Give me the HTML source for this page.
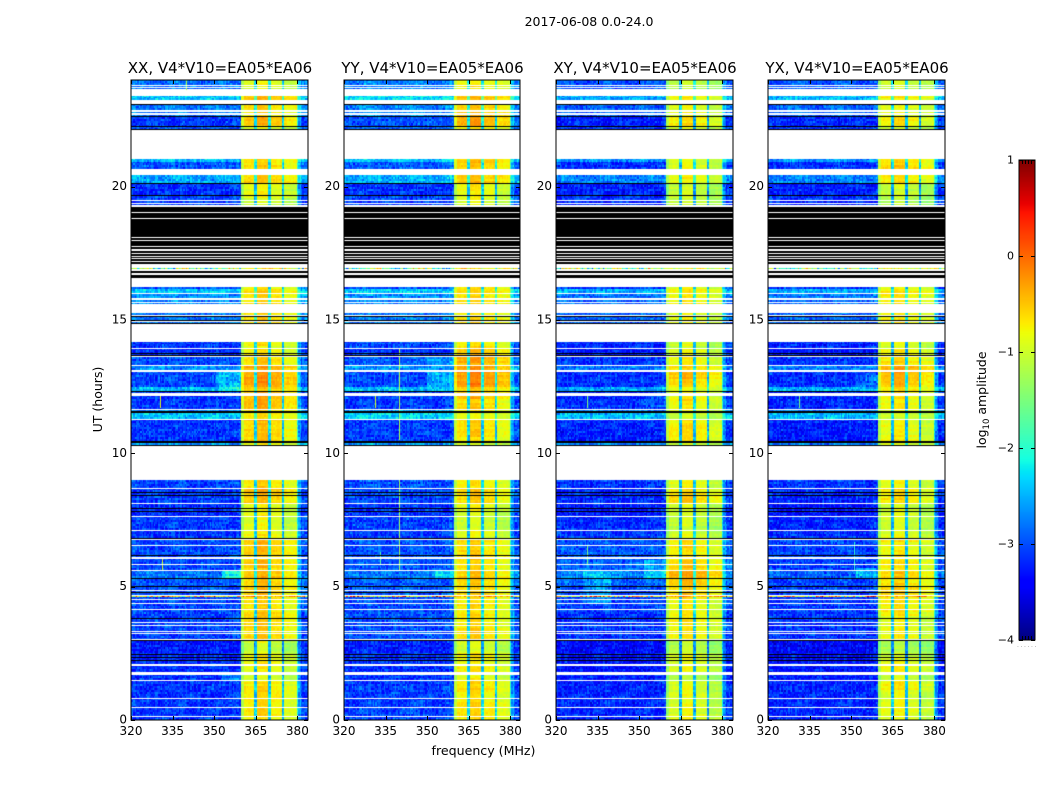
<!DOCTYPE html>
<html>
<head>
<meta charset="utf-8">
<title>2017-06-08 0.0-24.0</title>
<style>
html,body{margin:0;padding:0;background:#fff;}
#figure{position:relative;width:1050px;height:800px;overflow:hidden;background:#fff;font-family:"DejaVu Sans","Liberation Sans",sans-serif;}
canvas{position:absolute;display:block;}
svg{position:absolute;left:0;top:0;}
text{font-family:"DejaVu Sans","Liberation Sans",sans-serif;fill:#000;}
</style>
</head>
<body>
<div id="figure">
<svg id="overlay" width="1050" height="800" viewBox="0 0 1050 800">
  <text x="589" y="26" font-size="12.5" text-anchor="middle">2017-06-08 0.0-24.0</text>
  <text x="483.5" y="755" font-size="12.6" text-anchor="middle">frequency (MHz)</text>
  <text transform="translate(102,399.5) rotate(-90)" font-size="12.5" text-anchor="middle">UT (hours)</text>
  <text transform="translate(986,400) rotate(-90)" font-size="12.5" text-anchor="middle">log<tspan font-size="8.5" dy="3">10</tspan><tspan dy="-3"> amplitude</tspan></text>
  <text x="1017" y="647" font-size="6" letter-spacing="1.6" style="fill:#888">......</text>
</svg>
</div>
<script>
// Panels
const panelNames = ["XX", "YY", "XY", "YX"];
const panelTitleSuffix = ", V4*V10=EA05*EA06";
const freqTicks = [320, 335, 350, 365, 380];
const utTicks = [0, 5, 10, 15, 20];
const colorTicks = [1, 0, -1, -2, -3, -4];

// Time samples (1 sample = 2.25 minutes, 640 samples per day): measured data bands
const bandStart = [0,40,47,67,80,123,125,142,150,182,190,203,216,232,275,279,301.5,309,311.5,329,333,350,355,364,372,396,416,421.7,427.3,431,451,515.5,520,525,537,551,557.7,588,593,604,620,630.7];
const bandEnd = [40,47,67,80,123,124.5,142,150,182,190,203,216,232,240,279,301.5,309,311.5,329,333,350,355,364,372,378.3,407.3,421.7,427.3,431,432.7,452.3,520,525,537,545,557.7,561,593,604,615,624.3,640];
const bandLow = [-3.12,-3.15,-3.2,-3.3,-3.05,-0.6,-3,-2.85,-3.02,-3.12,-3.12,-3.2,-3.1,-3.05,-2.65,-3.15,-2.4,-2.7,-3.12,-2.45,-3.05,-2.7,-3.02,-3.2,-3.1,-2.8,-2.75,-2.7,-2.4,-3,-1.6,-3.1,-3.05,-3.15,-2.55,-2.95,-2.45,-3,-3.1,-2.8,-2.4,-2.85];
const bandHigh = [-0.65,-0.9,-0.7,-0.95,-0.55,-0.2,-0.45,-0.35,-0.5,-0.7,-0.8,-0.75,-0.4,-0.6,-0.7,-0.45,-0.7,-0.6,-0.4,-0.5,-0.2,-0.3,-0.5,-0.6,-0.75,-0.6,-0.55,-0.55,-0.5,-0.7,-0.7,-0.9,-0.85,-0.8,-0.55,-0.55,-0.6,-0.8,-0.45,-0.6,-0.5,-0.8];

// Flagged (white) and dead (black) time rows, as [first, last] samples
const whiteRowStart = [3,12,21,39,45,54.5,80,86,88.5,94.5,97,110.5,116,120,124.5,129,149,155.5,161,174,180,189.5,203,216,231,300.5,310.5,324.5,348.5,354,363,371,398,404,417.5,420,425.7,516,519.3,588,589.7,605,608.3,618,632.5,634.5];
const whiteRowEnd = [4,13.5,22.5,40.5,47.7,56,81,87,89.5,95.5,98.5,111.5,117.5,121.5,125.5,130.5,150,156.5,163,175,181.5,190.5,204,217.3,232,301.5,311.5,327,350,355,364.5,372,399,405,418.3,421.7,427.3,517,520.3,589,590.5,606.7,609.7,619.7,633.5,635.5];
const blackRowStart = [59.5,62,65.5,79,101,127.5,133.5,141,164,181.5,208.5,211.5,224.5,227,274,277.5,307,328,364.5,366,396,399.5,403,442.5,447.5,456,459,461.7,464.5,467,471,474,476.5,480,483.3,497,499.5,502.3,508,524.5,536.2,590.5,593,603.5,615.5];
const blackRowEnd = [60.5,63.5,66.5,80,102.5,128.5,134,142,165,182.5,209.5,212.5,225.5,228,275,279,309,329,365,367.5,397,400.5,404,445,449.5,458,461,463.5,466.5,469.5,473.5,476,479.5,482.5,496.7,499,501.5,506.7,513.3,525.3,537,591.5,594,604.5,616.5];

// Spectral response: segment edges (MHz) and the fraction of the way from band low to band high
const specEdges = [320,358,360,360.8,364.4,365.2,369.5,370.2,374.5,375.2,379.6,380.4,381.4,384.5];
const specMix = [0,0.03,0.8,0.96,0.3,1.02,0.32,0.95,0.28,0.88,0.42,0.2,0.03];

// Raised out-of-band glow patches: panel, first sample, last sample, MHz range, log10 amplitude added
const glowPanel = [0,0,0,0,1,1,1,2,2,3,3,2];
const glowFirst = [333,142,329,40,333,355,142,142,115,333,142,312];
const glowLast = [348,150,333,47,350,363,150,160,150,345,152,325];
const glowFrom = [351,353,352,353,350,350,353,352,330,352,352,352];
const glowTo = [360,360,360,360,360,360,360,360,340,360,360,360];
const glowAdd = [0.55,0.7,0.3,0.35,0.45,0.35,0.5,0.35,0.35,0.3,0.35,0.2];

// Per-panel hourly offsets in log10 amplitude, hours 0..23
const lowOffsetXX = [0,0,0,0,0,0,0,0,0,0,0,0,0,0,0,0,0,0,0,0,0,0,0,0];
const highOffsetXX = [0,0,0,0,0,0,0,0,0,0,0,0,0,0,0,0,0,0,0,0,0,0,0,0];
const lowOffsetYY = [0.05,0.05,0.05,0.05,0.05,0.05,0.05,0.05,0.05,0,0.05,0.05,0.05,0.05,0.05,0.05,0,0,0,0,0.05,0.1,0.1,0.1];
const highOffsetYY = [0,0.1,0,-0.05,-0.05,-0.15,-0.05,-0.1,-0.15,0,-0.15,-0.15,0.05,0.15,0,0,0,0,0,0,0.1,0,0.1,0.1];
const lowOffsetXY = [-0.1,-0.1,-0.1,-0.1,0,0.1,0.05,-0.05,-0.1,0,-0.1,-0.05,-0.1,-0.1,-0.1,-0.1,-0.1,-0.1,-0.1,-0.1,-0.2,-0.2,-0.15,-0.15];
const highOffsetXY = [-0.18,-0.18,-0.18,-0.12,-0.12,-0.03,-0.12,-0.22,-0.18,0,-0.22,-0.28,-0.28,-0.28,-0.18,-0.18,-0.18,-0.18,-0.18,-0.18,-0.22,-0.18,-0.18,-0.18];
const lowOffsetYX = [-0.1,-0.1,-0.1,-0.1,-0.05,-0.05,-0.05,-0.1,-0.1,0,-0.1,-0.1,-0.1,-0.1,-0.1,-0.1,-0.1,-0.1,-0.1,-0.1,-0.2,-0.15,-0.1,-0.1];
const highOffsetYX = [-0.13,-0.08,-0.18,-0.18,-0.13,-0.13,-0.18,-0.18,-0.18,0,-0.28,-0.28,-0.22,-0.08,-0.08,-0.18,-0.18,-0.18,-0.18,-0.18,-0.03,-0.18,-0.18,-0.18];
const lowOffsets = [lowOffsetXX, lowOffsetYY, lowOffsetXY, lowOffsetYX];
const highOffsets = [highOffsetXX, highOffsetYY, highOffsetXY, highOffsetYX];

// Narrowband interference streaks: panel, MHz, first sample, last sample, log10 amplitude
const rfiPanel = [0,1,1,2,2,0,1,3,0,1,3,1];
const rfiMHz = [330.3,331,340,331,331,331,333,331,340,340,351,340];
const rfiFirst = [312,312,280,312,155,150,155,312,630,300,150,150];
const rfiLast = [325,325,372,325,175,163,168,325,640,325,178,240];
const rfiValue = [-0.9,-1,-1.2,-1.5,-1.5,-1,-1.7,-1.5,-1.2,-1.2,-2,-1.3];

// Measured speckle residuals (texture of the out-of-band noise)
const speckleA = [0.12,-0.21,0.05,0.24,-0.09,-0.27,0.17,0.02,-0.14,0.29,-0.04,-0.19,0.08,0.22,-0.25,0.11,-0.06,0.19,-0.17,0.03,0.26,-0.12,-0.23,0.15,0.07,-0.02,-0.28,0.2,0.09,-0.16,0.01];
const speckleB = [-0.08,0.18,-0.2,0.04,0.13,-0.26,0.23,-0.03,0.1,-0.15,0.27,-0.11,-0.01,0.16,-0.24,0.06,0.21,-0.18,0.14,-0.07,0.25,-0.22,0,0.12,-0.13,0.19,-0.05,-0.27,0.08,0.17,-0.1,0.03,-0.19,0.24,-0.04,0.11,-0.16];

// Axis layout
const axLeft = [131, 344, 556, 768];
const axRight = [308, 520, 733, 945];
const axTop = 80, axBottom = 720;
const PX_PER_MHZ = 2.773;
const HOURS_PER_SAMPLE = 24 / 640;
const COLOR_MIN = -4, COLOR_MAX = 1;
const cbLeft = 1019, cbRight = 1035, cbTop = 160, cbBottom = 640;

function xScale(p, mhz) { return axLeft[p] + (mhz - 320) * PX_PER_MHZ; }
function yScale(hours) { return axBottom - hours / 24 * (axBottom - axTop); }
function sampleY(s) { return yScale(s * HOURS_PER_SAMPLE); }
function cbScale(v) { return cbBottom - (v - COLOR_MIN) / (COLOR_MAX - COLOR_MIN) * (cbBottom - cbTop); }

function seg(t, pts) {
  for (let i = 1; i < pts.length; i++) {
    if (t <= pts[i][0]) {
      const a = pts[i - 1], b = pts[i];
      return a[1] + (b[1] - a[1]) * (t - a[0]) / (b[0] - a[0]);
    }
  }
  return pts[pts.length - 1][1];
}
const JET_R = [[0,0],[0.35,0],[0.66,1],[0.89,1],[1,0.5]];
const JET_G = [[0,0],[0.125,0],[0.375,1],[0.64,1],[0.91,0],[1,0]];
const JET_B = [[0,0.5],[0.11,1],[0.34,1],[0.65,0],[1,0]];
function colorOf(v) {
  const t = Math.max(0, Math.min(1, (v - COLOR_MIN) / (COLOR_MAX - COLOR_MIN)));
  return "rgb(" + Math.round(seg(t, JET_R) * 255) + "," + Math.round(seg(t, JET_G) * 255) + "," + Math.round(seg(t, JET_B) * 255) + ")";
}
function mixAt(mhz) {
  for (let i = 0; i < specMix.length; i++) {
    if (mhz < specEdges[i + 1]) return specMix[i];
  }
  return specMix[specMix.length - 1];
}
function hourIndex(s) { return Math.min(23, Math.floor(s * HOURS_PER_SAMPLE)); }
function glowAt(p, s, mhz) {
  let g = 0;
  for (let i = 0; i < glowPanel.length; i++) {
    if (glowPanel[i] === p && s >= glowFirst[i] && s < glowLast[i] && mhz >= glowFrom[i] && mhz < glowTo[i]) g += glowAdd[i];
  }
  return g;
}

const figure = document.getElementById("figure");
const overlay = document.getElementById("overlay");
const NS = "http://www.w3.org/2000/svg";

function drawRows(ctx, starts, ends, fill) {
  ctx.fillStyle = fill;
  for (let i = 0; i < starts.length; i++) {
    const yBottom = Math.round(sampleY(starts[i]) - axTop);
    const yTop = Math.round(sampleY(ends[i]) - axTop);
    ctx.fillRect(0, yTop, ctx.canvas.width, Math.max(1, yBottom - yTop));
  }
}

function drawPanel(p) {
  const w = axRight[p] - axLeft[p];
  const h = axBottom - axTop;
  const cv = document.createElement("canvas");
  
  
  cv.width = w;
  cv.height = h;
  cv.style.left = axLeft[p] + "px";
  cv.style.top = axTop + "px";
  figure.insertBefore(cv, overlay);
  const ctx = cv.getContext("2d");
  const binMHz = 0.5;
  const binPx = binMHz * PX_PER_MHZ;
  for (let b = 0; b < bandStart.length; b++) {
    for (let s = bandStart[b]; s < bandEnd[b]; s += 2) {
      const sTop = Math.min(s + 2, bandEnd[b]);
      const hr = hourIndex(s);
      const low = bandLow[b] + lowOffsets[p][hr];
      const high = bandHigh[b] + highOffsets[p][hr];
      const row = Math.round(s / 2);
      const yB = Math.round(sampleY(s) - axTop);
      const yT = Math.round(sampleY(sTop) - axTop);
      const noisy = bandLow[b] > -2 ? 4 : 1;
      const rowGain = speckleB[(row * 5 + p * 3) % speckleB.length] * 0.4;
      for (let c = 0; c * binMHz < 64; c++) {
        const mhz = 320 + c * binMHz;
        const mix = mixAt(mhz);
        const a = speckleA[(c * 7 + row * row * 3 + 5 * p) % speckleA.length];
        const n = speckleB[(c * c * 3 + row * 5 + 7 * p) % speckleB.length];
        const v = low + glowAt(p, s, mhz) + (high - low) * mix + (a + n) * 0.85 * (1 - mix * 0.72) * noisy + rowGain * mix;
        ctx.fillStyle = colorOf(v);
        const x0 = Math.floor(c * binPx);
        const x1 = Math.ceil((c + 1) * binPx);
        ctx.fillRect(x0, yT, x1 - x0, Math.max(1, yB - yT));
      }
    }
  }
  for (let r = 0; r < rfiPanel.length; r++) {
    if (rfiPanel[r] !== p) continue;
    ctx.fillStyle = colorOf(rfiValue[r]);
    const yT = Math.round(sampleY(rfiLast[r]) - axTop);
    const yB = Math.round(sampleY(rfiFirst[r]) - axTop);
    ctx.fillRect(Math.round(xScale(p, rfiMHz[r]) - axLeft[p]), yT, 1, yB - yT);
  }
  drawRows(ctx, whiteRowStart, whiteRowEnd, "#fff");
  drawRows(ctx, blackRowStart, blackRowEnd, "#000");
}

function addLine(x1, y1, x2, y2, name, stroke) {
  const l = document.createElementNS(NS, "line");
  
  
  l.setAttribute("x1", x1);
  l.setAttribute("y1", y1);
  l.setAttribute("x2", x2);
  l.setAttribute("y2", y2);
  l.setAttribute("stroke", stroke || "#000");
  l.setAttribute("stroke-width", "1");
  overlay.appendChild(l);
}
function addText(x, y, str, anchor, size, name) {
  const t = document.createElementNS(NS, "text");
  
  
  t.setAttribute("x", x);
  t.setAttribute("y", y);
  t.setAttribute("text-anchor", anchor);
  t.setAttribute("font-size", size);
  t.textContent = str;
  overlay.appendChild(t);
}
function addFrame(x, y, w, h, name) {
  const r = document.createElementNS(NS, "rect");
  
  
  r.setAttribute("x", x);
  r.setAttribute("y", y);
  r.setAttribute("width", w);
  r.setAttribute("height", h);
  r.setAttribute("fill", "none");
  r.setAttribute("stroke", "#000");
  r.setAttribute("stroke-width", "1");
  overlay.appendChild(r);
}

function drawAxes(p) {
  const key = panelNames[p].toLowerCase();
  const l = axLeft[p], r = axRight[p];
  addFrame(l, axTop, r - l, axBottom - axTop, "axes-frame-" + key);
  freqTicks.forEach(function (f) {
    const x = Math.round(xScale(p, f)) + 0.5;
    addLine(x, axBottom, x, axBottom - 4, "x-tick-" + key + "-" + f);
    addLine(x, axTop, x, axTop + 4, "x-tick-top-" + key + "-" + f);
    addText(xScale(p, f), axBottom + 15, String(f), "middle", 12, "x-tick-label-" + key + "-" + f);
  });
  utTicks.forEach(function (u) {
    const y = Math.round(yScale(u)) + 0.5;
    addLine(l, y, l + 4, y, "y-tick-" + key + "-" + u);
    addLine(r, y, r - 4, y, "y-tick-right-" + key + "-" + u);
    addText(l - 4, yScale(u) + 3.5, String(u), "end", 12, "y-tick-label-" + key + "-" + u);
  });
  addText((l + r) / 2 + 0.5, 73, panelNames[p] + panelTitleSuffix, "middle", 15, "panel-title-" + key);
}

function drawColorbar() {
  const cv = document.createElement("canvas");
  
  
  cv.width = cbRight - cbLeft;
  cv.height = cbBottom - cbTop;
  cv.style.left = cbLeft + "px";
  cv.style.top = cbTop + "px";
  figure.insertBefore(cv, overlay);
  const ctx = cv.getContext("2d");
  for (let y = 0; y < cv.height; y++) {
    const v = COLOR_MAX - (y + 0.5) / cv.height * (COLOR_MAX - COLOR_MIN);
    ctx.fillStyle = colorOf(v);
    ctx.fillRect(0, y, cv.width, 1);
  }
  addFrame(cbLeft, cbTop, cbRight - cbLeft, cbBottom - cbTop, "colorbar-frame");
  colorTicks.forEach(function (v) {
    const y = Math.round(cbScale(v)) + 0.5;
    addLine(cbLeft, y, cbLeft + 4, y, "colorbar-tick-" + v);
    addLine(cbRight, y, cbRight - 4, y, "colorbar-tick-right-" + v);
    const label = v < 0 ? "\u2212" + Math.abs(v) : String(v);
    addText(cbLeft - 5, cbScale(v) + 3.5, label, "end", 11, "colorbar-tick-label-" + v);
  });
  for (let x = cbLeft + 3.5; x < cbRight - 2; x += 3) {
    addLine(x, cbTop, x, cbTop + 4, "colorbar-minor-tick-top");
    addLine(x, cbBottom, x, cbBottom - 4, "colorbar-minor-tick-bottom");
  }
}

for (let p = 0; p < panelNames.length; p++) {
  drawPanel(p);
  drawAxes(p);
}
drawColorbar();
</script>
</body>
</html>
